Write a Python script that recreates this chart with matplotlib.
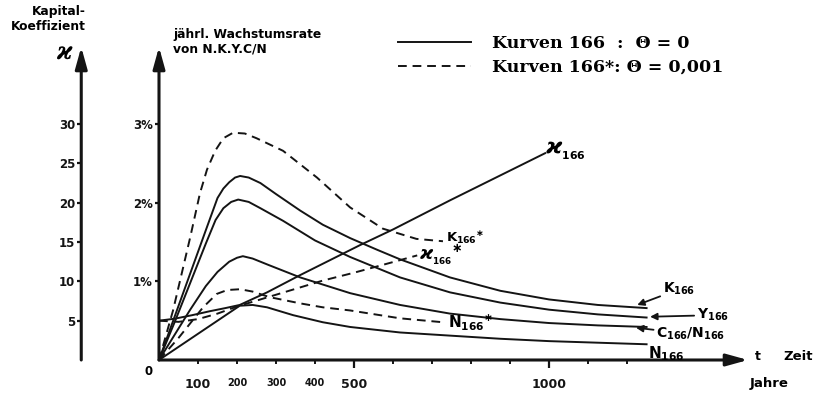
import matplotlib
matplotlib.use("Agg")
import matplotlib.pyplot as plt

# time in years, annual growth rates in %
t_K = [0, 40, 80, 120, 150, 165, 180, 195, 208, 230, 260, 300, 362, 420, 490, 560, 618, 746, 875, 1000, 1125, 1250]
r_K = [0, 0.55, 1.1, 1.65, 2.06, 2.18, 2.26, 2.32, 2.34, 2.32, 2.25, 2.11, 1.90, 1.72, 1.55, 1.40, 1.28, 1.05, 0.88, 0.77, 0.70, 0.66]

t_Y = [0, 40, 80, 120, 145, 165, 185, 203, 230, 260, 318, 400, 490, 618, 746, 875, 1000, 1125, 1250]
r_Y = [0, 0.48, 0.98, 1.48, 1.78, 1.93, 2.01, 2.04, 2.01, 1.93, 1.77, 1.52, 1.31, 1.05, 0.86, 0.73, 0.64, 0.58, 0.54]

t_CN = [0, 40, 80, 120, 150, 180, 200, 215, 240, 280, 362, 490, 618, 746, 875, 1000, 1125, 1250]
r_CN = [0, 0.32, 0.64, 0.94, 1.12, 1.25, 1.30, 1.32, 1.29, 1.21, 1.05, 0.85, 0.70, 0.59, 0.52, 0.47, 0.44, 0.42]

t_N = [0, 60, 120, 180, 207, 240, 277, 344, 420, 490, 618, 746, 875, 1000, 1125, 1250]
r_N = [0, 0.2, 0.4, 0.6, 0.69, 0.70, 0.67, 0.57, 0.48, 0.42, 0.35, 0.31, 0.27, 0.24, 0.22, 0.20]

# theta = 0.001
t_Ks = [0, 36, 80, 105, 123, 144, 165, 190, 220, 250, 318, 405, 490, 574, 660, 728]
r_Ks = [0, 0.63, 1.56, 2.12, 2.42, 2.66, 2.82, 2.89, 2.88, 2.82, 2.66, 2.32, 1.94, 1.67, 1.54, 1.51]

t_Ns = [0, 50, 113, 148, 175, 208, 240, 283, 362, 420, 490, 618, 728]
r_Ns = [0, 0.28, 0.67, 0.84, 0.89, 0.90, 0.87, 0.80, 0.72, 0.67, 0.63, 0.53, 0.48]

# capital coefficient
t_chi = [0, 40, 85, 130, 170, 207, 277, 362, 515, 600, 746, 990]
k_chi = [5.0, 5.25, 5.7, 6.2, 6.6, 7.0, 8.6, 10.8, 14.6, 16.6, 20.3, 26.3]
t_chis = [0, 50, 100, 150, 200, 260, 320, 420, 500, 574, 662]
k_chis = [5.0, 4.85, 5.2, 5.9, 6.8, 7.7, 8.6, 10.1, 11.1, 12.1, 13.3]

rate_ticks = [1, 2, 3]
rate_labels = ["1%", "2%", "3%"]
chi_ticks = [5, 10, 15, 20, 25, 30]
year_major = [500, 1000]
year_minor = [100, 200, 300, 400, 600, 700, 800, 900, 1100, 1200]
year_minor_labels = ["100", "200", "300", "400", "", "", "", "", "", ""]

plt.rcParams["font.family"] = "DejaVu Sans"
plt.rcParams["font.weight"] = "bold"
plt.rcParams["mathtext.fontset"] = "custom"
plt.rcParams["mathtext.rm"] = "DejaVu Sans:bold"
plt.rcParams["mathtext.it"] = "DejaVu Sans:italic:bold"
plt.rcParams["mathtext.bf"] = "DejaVu Sans:bold"

INK = "#141414"
DASH = (4.5, 3)


def main():
    fig = plt.figure(figsize=(8.24, 3.94), dpi=100)
    ax = fig.add_axes([159 / 824, 34 / 394, 589 / 824, 313 / 394])
    ax.set_xlim(0, 1510)
    ax.set_ylim(0, 3.98)
    for s in ax.spines.values():
        s.set_visible(False)

    # kappa axis shares the vertical scale: 10 <-> 1 %
    axk = ax.twinx()
    axk.set_ylim(0, 39.8)
    for s in axk.spines.values():
        s.set_visible(False)
    axk.yaxis.set_ticks_position("left")
    axk.spines["left"].set_position(("axes", -0.132))
    axk.set_yticks(chi_ticks, [str(v) for v in chi_ticks], fontweight="bold")
    axk.tick_params(axis="y", length=3, width=1.6, pad=1.5, labelsize=8.5, colors=INK)

    lw = 1.4
    ax.plot(t_K, r_K, color=INK, lw=lw, label="Kurven 166  :  \u0398 = 0")
    ax.plot(t_Y, r_Y, color=INK, lw=lw)
    ax.plot(t_CN, r_CN, color=INK, lw=lw)
    ax.plot(t_N, r_N, color=INK, lw=lw)
    ax.plot(t_Ks, r_Ks, color=INK, lw=lw, dashes=DASH, label="Kurven 166*: \u0398 = 0,001")
    ax.plot(t_Ns, r_Ns, color=INK, lw=lw, dashes=DASH)
    axk.plot(t_chi, k_chi, color=INK, lw=lw)
    axk.plot(t_chis, k_chis, color=INK, lw=lw, dashes=DASH)

    # axes with arrow heads
    arrow = dict(arrowstyle="-|>,head_length=1.3,head_width=0.36", lw=2.2,
                 color=INK, shrinkA=0, shrinkB=0, mutation_scale=10)
    for x0, y0, x1, y1 in [(0, 0, 1, 0), (0, 0, 0, 1), (-0.132, 0, -0.132, 1)]:
        ax.annotate("", xy=(x1, y1), xytext=(x0, y0), xycoords="axes fraction",
                    arrowprops=arrow, annotation_clip=False)

    ax.set_yticks(rate_ticks, rate_labels, fontweight="bold")
    ax.tick_params(axis="y", length=3, width=1.6, pad=1.5, labelsize=8.5, colors=INK)
    ax.set_xticks(year_major, [str(v) for v in year_major], fontweight="bold")
    ax.set_xticks(year_minor, year_minor_labels, minor=True, fontweight="bold")
    ax.tick_params(axis="x", which="major", length=6, width=1.6, pad=7, labelsize=9, colors=INK)
    ax.tick_params(axis="x", which="minor", length=3, width=1.4, pad=10, labelsize=7, colors=INK)
    for lab in ax.get_xticklabels(minor=True):
        if lab.get_text() == "100":
            lab.set_fontsize(9)

    ax.text(-28, -0.15, "0", fontsize=8.5, ha="center", va="center", clip_on=False)

    # axis titles
    fig.text(86 / 824, 1 - 19 / 394, "Kapital-\nKoeffizient", ha="right", va="center",
             fontsize=8.8, linespacing=1.2, multialignment="right")
    fig.text(64 / 824, 1 - 51 / 394, "\u03f0", ha="center", va="center", fontsize=17,
             family="DejaVu Serif", style="italic", weight="bold")
    fig.text(173 / 824, 1 - 42 / 394, "jährl. Wachstumsrate\nvon N.K.Y.C/N", ha="left",
             va="center", fontsize=8.8, linespacing=1.2)
    fig.text(758 / 824, 1 - 357 / 394, "t", ha="center", va="center", fontsize=9)
    fig.text(783 / 824, 1 - 357 / 394, "Zeit", ha="left", va="center", fontsize=9.5)
    fig.text(750 / 824, 1 - 384 / 394, "Jahre", ha="left", va="center", fontsize=9.5)

    ax.legend(loc="upper left", bbox_to_anchor=(398 / 824, 1 - 35 / 394),
              bbox_transform=fig.transFigure, frameon=False, borderpad=0,
              borderaxespad=0, handlelength=4.2, handletextpad=1.2, labelspacing=0.4,
              prop={"family": "DejaVu Serif", "weight": "bold", "size": 12.5})

    # curve labels
    axk.text(990, 26.6, r"$\varkappa_{_{166}}$", fontsize=16, ha="left", va="center")
    ax.text(735, 1.56, r"$\mathrm{K}_{166}{}^{\ast}$", fontsize=9.5, ha="left", va="center")
    ax.text(666, 1.34, r"$\varkappa_{_{166}}{}^{\ast}$", fontsize=13, ha="left", va="center")
    ax.text(741, 0.48, r"$\mathrm{N}_{166}{}^{\ast}$", fontsize=11, ha="left", va="center")
    ax.text(1254, 0.08, r"$\mathrm{N}_{166}$", fontsize=11, ha="left", va="center")
    ax.annotate(r"$\mathrm{K}_{166}$", xy=(1226, 0.70), xytext=(1292, 0.90), fontsize=10,
                ha="left", va="center",
                arrowprops=dict(arrowstyle="-|>", color=INK, lw=1.3, shrinkA=0, shrinkB=0))
    ax.annotate(r"$\mathrm{Y}_{166}$", xy=(1259, 0.55), xytext=(1379, 0.57), fontsize=10,
                ha="left", va="center",
                arrowprops=dict(arrowstyle="-|>", color=INK, lw=1.3, shrinkA=0, shrinkB=0))
    ax.annotate(r"$\mathrm{C}_{166}/\mathrm{N}_{166}$", xy=(1223, 0.41), xytext=(1275, 0.33),
                fontsize=10, ha="left", va="center",
                arrowprops=dict(arrowstyle="-|>", color=INK, lw=1.3, shrinkA=0, shrinkB=0))

    fig.savefig("out.png", dpi=100)


if __name__ == "__main__":
    main()
